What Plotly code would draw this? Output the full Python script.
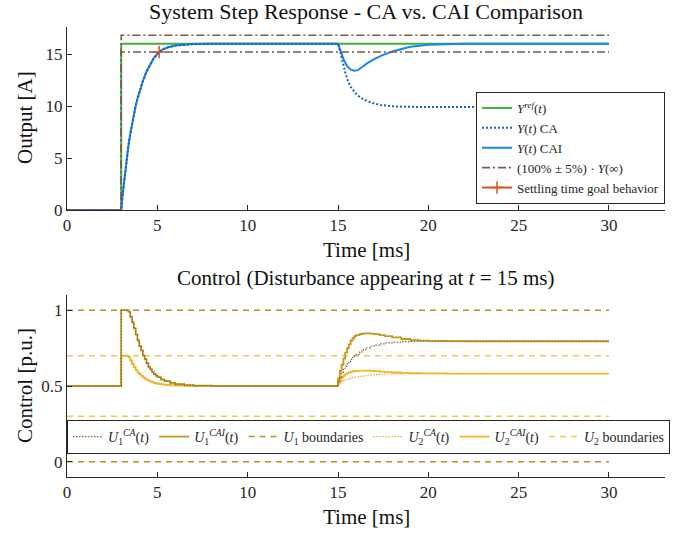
import plotly.graph_objects as go

# ---------------- data ----------------
t_ref = [0, 3.0, 3.0, 30]
y_ref = [0, 0, 16, 16]

t_band = [0, 3.0, 3.0, 30]
y_band_hi = [0, 0, 16.8, 16.8]
y_band_lo = [0, 0, 15.2, 15.2]

t_rise = [0, 3.0, 3.1, 3.2, 3.3, 3.4, 3.5, 3.6, 3.7, 3.8, 3.9, 4.0, 4.2, 4.4, 4.6,
          4.8, 5.0, 5.1, 5.3, 5.6, 6.0, 6.5, 7.0, 8.0, 9.0]
y_rise = [0, 0, 1.8, 3.4, 4.9, 6.2, 7.3, 8.3, 9.2, 10.0, 10.7, 11.3, 12.4, 13.3, 14.0,
          14.6, 15.0, 15.2, 15.45, 15.65, 15.82, 15.92, 15.96, 15.99, 16.0]

t_cai_dist = [15.0, 15.1, 15.2, 15.33, 15.5, 15.7, 15.9, 16.1, 16.3, 16.6, 17.0, 17.4,
              18.1, 19.0, 20.0, 21.0, 22.0, 30.0]
y_cai_dist = [16.0, 15.5, 15.0, 14.4, 13.85, 13.5, 13.4, 13.45, 13.7, 14.1, 14.5, 14.85,
              15.3, 15.7, 15.9, 15.97, 16.0, 16.0]

t_ca_dist = [15.0, 15.14, 15.3, 15.42, 15.55, 15.7, 15.9, 16.07, 16.3, 16.6, 17.0, 17.36,
             18.0, 18.6, 20.0, 30.0]
y_ca_dist = [16.0, 15.1, 13.9, 13.1, 12.4, 11.85, 11.4, 11.05, 10.75, 10.48, 10.25, 10.1,
             9.98, 9.93, 9.9, 9.9]

t_settle = [5.1]
y_settle = [15.2]

t_u = [0, 3.0, 3.1, 3.2, 3.3, 3.4, 3.5, 3.6, 3.7, 3.8, 3.9, 4.0, 4.1, 4.2, 4.3, 4.4, 4.5,
       4.6, 4.7, 4.8, 4.9, 5.0, 5.2, 5.4, 5.7, 6.0, 6.5, 7.0, 8.0,
       15.0, 15.1, 15.2, 15.3, 15.4, 15.5, 15.6, 15.7, 15.8, 15.9, 16.0, 16.2, 16.4, 16.6,
       16.8, 17.0, 17.3, 17.6, 18.0, 18.5, 19.0, 19.5, 20.0, 21.0, 22.0, 30.0]

u1_cai = [0.5, 1.0, 1.0, 1.0, 1.0, 0.99, 0.955, 0.92, 0.88, 0.84, 0.80, 0.765, 0.735, 0.70,
          0.675, 0.65, 0.628, 0.61, 0.594, 0.58, 0.568, 0.558, 0.543, 0.532, 0.52, 0.513,
          0.506, 0.503, 0.5,
          0.55, 0.60, 0.64, 0.68, 0.72, 0.75, 0.775, 0.80, 0.815, 0.828, 0.835, 0.843, 0.847,
          0.847, 0.845, 0.842, 0.836, 0.829, 0.82, 0.81, 0.803, 0.799, 0.797, 0.796, 0.795,
          0.795]
u1_ca = [0.5, 1.0, 1.0, 1.0, 1.0, 0.99, 0.955, 0.92, 0.88, 0.84, 0.80, 0.765, 0.735, 0.70,
         0.675, 0.65, 0.628, 0.61, 0.594, 0.58, 0.568, 0.558, 0.543, 0.532, 0.52, 0.513,
         0.506, 0.503, 0.5,
         0.53, 0.56, 0.585, 0.61, 0.63, 0.645, 0.66, 0.675, 0.688, 0.698, 0.708, 0.725, 0.74,
         0.752, 0.762, 0.77, 0.778, 0.784, 0.789, 0.792, 0.794, 0.795, 0.795, 0.795, 0.795,
         0.795]
u2_cai = [0.5, 0.7, 0.7, 0.7, 0.7, 0.69, 0.668, 0.645, 0.625, 0.605, 0.59, 0.578, 0.567,
          0.557, 0.549, 0.541, 0.535, 0.53, 0.525, 0.521, 0.518, 0.515, 0.511, 0.508, 0.505,
          0.503, 0.501, 0.5, 0.5,
          0.52, 0.54, 0.555, 0.568, 0.578, 0.585, 0.59, 0.594, 0.597, 0.599, 0.60, 0.602,
          0.602, 0.601, 0.60, 0.598, 0.595, 0.592, 0.589, 0.586, 0.584, 0.583, 0.583, 0.582,
          0.582, 0.582]
u2_ca = [0.5, 0.7, 0.7, 0.7, 0.7, 0.69, 0.668, 0.645, 0.625, 0.605, 0.59, 0.578, 0.567,
         0.557, 0.549, 0.541, 0.535, 0.53, 0.525, 0.521, 0.518, 0.515, 0.511, 0.508, 0.505,
         0.503, 0.501, 0.5, 0.5,
         0.51, 0.52, 0.528, 0.535, 0.54, 0.545, 0.549, 0.553, 0.556, 0.558, 0.56, 0.564,
         0.568, 0.571, 0.573, 0.575, 0.577, 0.579, 0.58, 0.581, 0.582, 0.582, 0.582, 0.582,
         0.582, 0.582]

t_bound = [0, 30]
u1_min, u1_max = 0.0, 1.0
u2_min, u2_max = 0.3, 0.7

x_ticks = [0, 5, 10, 15, 20, 25, 30]
y1_ticks = [0, 5, 10, 15]
y2_ticks = [0, 0.5, 1]
y2_ticklabels = ["0", "0.5", "1"]

# ---------------- styles ----------------
FONT = "Liberation Serif"
C_REF = "#3bb33b"
C_CA = "#1a5fc0"
C_CAI = "#1a86ec"
C_BAND = "#7b5b4b"
C_SET = "#d95319"
C_U1CA = "#7d6a30"
C_U1CAI = "#c9961e"
C_U1B = "#b8902a"
C_U2CA = "#dcb54a"
C_U2CAI = "#f4b722"
C_U2B = "#f6c84a"

fig = go.Figure()

# top subplot
fig.add_trace(go.Scatter(x=t_ref, y=y_ref, mode="lines", name="<i>Y</i><sup><i>ref</i></sup>(<i>t</i>)",
                         line=dict(color=C_REF, width=2), legend="legend", legendrank=1))
fig.add_trace(go.Scatter(x=t_rise + t_cai_dist, y=y_rise + y_cai_dist, mode="lines",
                         name="<i>Y</i>(<i>t</i>) CAI", line=dict(color=C_CAI, width=2),
                         legend="legend", legendrank=3))
fig.add_trace(go.Scatter(x=t_rise + t_ca_dist, y=y_rise + y_ca_dist, mode="lines",
                         name="<i>Y</i>(<i>t</i>) CA", line=dict(color=C_CA, width=2, dash="2px,2px"),
                         legend="legend", legendrank=2))
fig.add_trace(go.Scatter(x=t_band, y=y_band_hi, mode="lines",
                         name="(100% ± 5%) · <i>Y</i>(∞)",
                         line=dict(color=C_BAND, width=1.6, dash="8px,3px,2px,3px"),
                         legend="legend", legendrank=4))
fig.add_trace(go.Scatter(x=t_band, y=y_band_lo, mode="lines", showlegend=False,
                         line=dict(color=C_BAND, width=1.6, dash="8px,3px,2px,3px")))
fig.add_trace(go.Scatter(x=t_settle, y=y_settle, mode="lines+markers",
                         name="Settling time goal behavior",
                         line=dict(color=C_SET, width=2),
                         marker=dict(symbol="cross-thin", size=9, color=C_SET,
                                     line=dict(width=1.5, color=C_SET)),
                         legend="legend", legendrank=5))

# bottom subplot
def add_u(x, y, name, color, width, dash, shape, rank):
    fig.add_trace(go.Scatter(x=x, y=y, mode="lines", name=name, xaxis="x2", yaxis="y2",
                             line=dict(color=color, width=width, dash=dash, shape=shape),
                             legend="legend2", legendrank=rank))

BDASH = "6px,5px"
add_u(t_bound, [u1_max, u1_max], "<i>U</i><sub>1</sub> boundaries", C_U1B, 1.5, BDASH, "linear", 3)
fig.add_trace(go.Scatter(x=t_bound, y=[u1_min, u1_min], mode="lines", xaxis="x2", yaxis="y2",
                         showlegend=False, line=dict(color=C_U1B, width=1.5, dash=BDASH)))
add_u(t_bound, [u2_max, u2_max], "<i>U</i><sub>2</sub> boundaries", C_U2B, 1.5, BDASH, "linear", 6)
fig.add_trace(go.Scatter(x=t_bound, y=[u2_min, u2_min], mode="lines", xaxis="x2", yaxis="y2",
                         showlegend=False, line=dict(color=C_U2B, width=1.5, dash=BDASH)))
add_u(t_u, u2_cai, "<i>U</i><sub>2</sub><sup><i>CAI</i></sup>(<i>t</i>)", C_U2CAI, 1.8, "solid", "hv", 5)
add_u(t_u, u2_ca, "<i>U</i><sub>2</sub><sup><i>CA</i></sup>(<i>t</i>)", C_U2CA, 1.2, "1.5px,1.5px", "hv", 4)
add_u(t_u, u1_cai, "<i>U</i><sub>1</sub><sup><i>CAI</i></sup>(<i>t</i>)", C_U1CAI, 1.8, "solid", "hv", 2)
add_u(t_u, u1_ca, "<i>U</i><sub>1</sub><sup><i>CA</i></sup>(<i>t</i>)", C_U1CA, 1.2, "1.5px,1.5px", "hv", 1)

axis_common = dict(showline=True, linecolor="#262626", linewidth=1, ticks="inside",
                   ticklen=5, tickcolor="#262626", showgrid=False, zeroline=False,
                   mirror=False, automargin=False,
                   tickfont=dict(family=FONT, size=17, color="#262626"))

W, H = 681, 535
L, R, T, B = 67, 16, 27, 58
ph = H - T - B
pw = W - L - R

def py(p):  # pixel y -> paper
    return (H - B - p) / ph

def px(p):
    return (p - L) / pw

fig.update_layout(
    width=W, height=H, margin=dict(l=L, r=R, t=T, b=B, autoexpand=False),
    paper_bgcolor="white", plot_bgcolor="white",
    font=dict(family=FONT, color="#262626"),
    xaxis=dict(domain=[0, 1], anchor="y", range=[0, 33.1], tickvals=x_ticks, **axis_common),
    yaxis=dict(domain=[py(210), 1], anchor="x", range=[0, 17.6], tickvals=y1_ticks, **axis_common),
    xaxis2=dict(domain=[0, 1], anchor="y2", range=[0, 33.1], tickvals=x_ticks, **axis_common),
    yaxis2=dict(domain=[0, py(295)], anchor="x2", range=[-0.1, 1.1], tickvals=y2_ticks,
                ticktext=y2_ticklabels, **axis_common),
    legend=dict(x=1, xanchor="right", y=py(204), yanchor="bottom",
                bgcolor="white", bordercolor="#262626", borderwidth=1,
                font=dict(family=FONT, size=13, color="#262626"),
                tracegroupgap=0, itemwidth=30),
    legend2=dict(orientation="h", x=0, xanchor="left", y=py(437), yanchor="middle",
                 bgcolor="white", bordercolor="#262626", borderwidth=1,
                 font=dict(family=FONT, size=14, color="#262626"),
                 itemwidth=30),
    showlegend=True,
)

ann = dict(showarrow=False, xref="paper", yref="paper", font=dict(family=FONT, size=21, color="#111"))
fig.add_annotation(text="System Step Response - CA vs. CAI Comparison", x=0.5, y=py(12),
                   xanchor="center", yanchor="middle", font=dict(family=FONT, size=22, color="#111"),
                   showarrow=False, xref="paper", yref="paper")
fig.add_annotation(text="Control (Disturbance appearing at <i>t</i> = 15 ms)", x=0.5, y=py(278),
                   xanchor="center", yanchor="middle", **ann)
fig.add_annotation(text="Time [ms]", x=0.5, y=py(250), xanchor="center", yanchor="middle", **ann)
fig.add_annotation(text="Time [ms]", x=0.5, y=py(517), xanchor="center", yanchor="middle", **ann)
fig.add_annotation(text="Output [A]", x=px(25), y=py(118), xanchor="center", yanchor="middle",
                   textangle=-90, **ann)
fig.add_annotation(text="Control [p.u.]", x=px(25), y=py(386), xanchor="center", yanchor="middle",
                   textangle=-90, **ann)

fig.write_html("out.html", config={"displayModeBar": False},
               post_script="document.body.style.margin='0px';document.body.style.overflow='hidden';")
